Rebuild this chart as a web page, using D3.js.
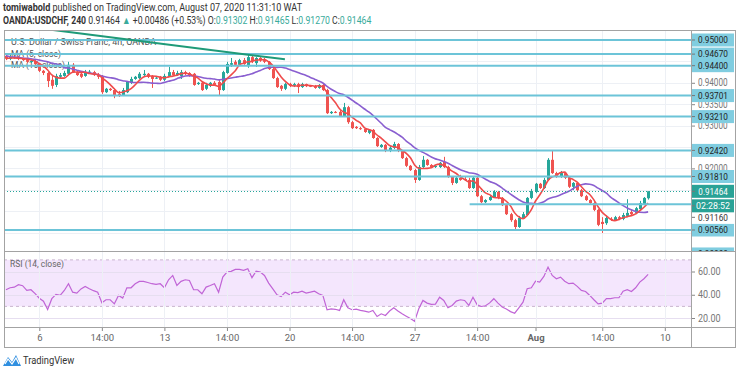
<!DOCTYPE html>
<html><head><meta charset="utf-8">
<script src="https://cdn.jsdelivr.net/npm/d3@7"></script>
<style>body{margin:0;background:#fff;}svg{display:block;font-family:Roboto,"Open Sans",sans-serif;}</style>
</head><body><svg id="c" width="740" height="373"></svg>
<script>
// ---------------- data ----------------
const open = [
.9463,.9456,.9460,.9458,.9456,.9453,.9449,.9451,.9444,.9428,
.9423,.9407,.9395,.9414,.9416,.9421,.9442,.9425,.9421,.9416,
.9425,.9425,.9418,.9416,.9378,.9386,.9383,.9374,.9371,.9378,
.9400,.9409,.9411,.9418,.9421,.9416,.9411,.9414,.9407,.9416,
.9425,.9418,.9416,.9425,.9423,.9421,.9397,.9400,.9386,.9393,
.9400,.9402,.9383,.9423,.9442,.9449,.9442,.9453,.9439,.9460,
.9446,.9458,.9453,.9449,.9432,.9411,.9393,.9386,.9397,.9393,
.9397,.9390,.9397,.9393,.9393,.9388,.9395,.9383,.9329,.9332,
.9332,.9322,.9343,.9308,.9297,.9294,.9292,.9283,.9290,.9271,
.9250,.9255,.9241,.9248,.9257,.9241,.9224,.9206,.9196,.9173,
.9203,.9220,.9208,.9203,.9203,.9215,.9203,.9180,.9166,.9178,
.9175,.9173,.9154,.9178,.9135,.9121,.9126,.9133,.9145,.9131,
.9114,.9093,.9079,.9063,.9084,.9091,.9131,.9145,.9164,.9154,
.9173,.9220,.9189,.9180,.9189,.9178,.9157,.9166,.9149,.9135,
.9126,.9119,.9103,.9075,.9072,.9082,.9079,.9086,.9082,.9089,
.9098,.9096,.9105,.9117,.91302];
const high = [
.9465,.9465,.9463,.9463,.9458,.9458,.9453,.9453,.9446,.9430,
.9425,.9416,.9421,.9423,.9428,.9449,.9446,.9428,.9423,.9430,
.9430,.9428,.9423,.9418,.9388,.9388,.9386,.9381,.9388,.9404,
.9414,.9416,.9425,.9430,.9423,.9418,.9416,.9416,.9421,.9437,
.9430,.9428,.9430,.9428,.9425,.9423,.9402,.9402,.9400,.9402,
.9404,.9407,.9428,.9449,.9458,.9453,.9456,.9458,.9467,.9463,
.9460,.9460,.9458,.9451,.9435,.9414,.9395,.9400,.9400,.9400,
.9400,.9400,.9398,.9395,.9395,.9397,.9397,.9386,.9334,.9334,
.9336,.9353,.9346,.9311,.9299,.9297,.9294,.9292,.9292,.9273,
.9257,.9257,.9252,.9262,.9259,.9243,.9227,.9208,.9199,.9208,
.9229,.9222,.9210,.9208,.9215,.9227,.9206,.9182,.9182,.9185,
.9180,.9178,.9180,.9180,.9138,.9128,.9138,.9149,.9147,.9133,
.9117,.9096,.9082,.9089,.9098,.9133,.9152,.9166,.9166,.9178,
.9224,.9241,.9192,.9194,.9192,.9180,.9168,.9168,.9152,.9138,
.9128,.9121,.9105,.9086,.9089,.9086,.9089,.9089,.9096,.9128,
.9103,.9110,.9124,.9133,.91465];
const low = [
.9453,.9453,.9456,.9453,.9451,.9446,.9446,.9439,.9425,.9418,
.9390,.9386,.9390,.9411,.9414,.9418,.9423,.9416,.9411,.9414,
.9421,.9416,.9409,.9374,.9376,.9381,.9364,.9367,.9369,.9376,
.9397,.9407,.9409,.9416,.9411,.9388,.9409,.9404,.9404,.9414,
.9416,.9416,.9409,.9418,.9414,.9393,.9395,.9381,.9383,.9390,
.9393,.9371,.9381,.9421,.9437,.9439,.9439,.9442,.9435,.9446,
.9437,.9449,.9446,.9430,.9409,.9388,.9381,.9383,.9390,.9390,
.9376,.9388,.9390,.9390,.9386,.9386,.9381,.9327,.9327,.9329,
.9320,.9320,.9304,.9292,.9292,.9290,.9283,.9280,.9269,.9250,
.9248,.9238,.9238,.9245,.9238,.9222,.9203,.9194,.9166,.9171,
.9201,.9206,.9201,.9201,.9201,.9201,.9178,.9161,.9164,.9171,
.9171,.9152,.9152,.9133,.9119,.9119,.9124,.9131,.9128,.9112,
.9091,.9075,.9054,.9061,.9082,.9089,.9128,.9142,.9152,.9152,
.9171,.9187,.9178,.9178,.9175,.9154,.9149,.9147,.9133,.9124,
.9117,.9100,.9065,.9049,.9068,.9077,.9077,.9079,.9079,.9086,
.9091,.9093,.9103,.9114,.91270];
const close = [
.9456,.9460,.9458,.9456,.9453,.9449,.9451,.9444,.9428,.9423,
.9404,.9393,.9416,.9418,.9423,.9442,.9425,.9418,.9414,.9425,
.9426,.9418,.9414,.9378,.9386,.9383,.9369,.9369,.9383,.9402,
.9409,.9414,.9421,.9421,.9414,.9409,.9412,.9407,.9416,.9425,
.9418,.9423,.9425,.9421,.9416,.9395,.9400,.9383,.9395,.9400,
.9395,.9383,.9425,.9444,.9446,.9442,.9453,.9444,.9460,.9451,
.9458,.9453,.9449,.9432,.9411,.9390,.9386,.9397,.9393,.9397,
.9390,.9397,.9393,.9392,.9388,.9395,.9383,.9329,.9332,.9331,
.9322,.9343,.9308,.9294,.9294,.9292,.9285,.9290,.9271,.9252,
.9255,.9241,.9248,.9257,.9241,.9224,.9206,.9196,.9173,.9203,
.9220,.9208,.9203,.9206,.9213,.9203,.9180,.9166,.9178,.9173,
.9173,.9154,.9178,.9135,.9121,.9126,.9133,.9145,.9131,.9114,
.9093,.9079,.9063,.9084,.9093,.9131,.9147,.9164,.9154,.9173,
.9220,.9189,.9180,.9189,.9178,.9157,.9166,.9149,.9135,.9126,
.9119,.9103,.9068,.9070,.9084,.9081,.9086,.9082,.9091,.9096,
.9093,.9107,.9119,.9131,.91464];
// MA(15) values visible at the left edge before a full 15-bar window exists
const ma15Head = [.9463,.9461,.9460,.9459,.9458,.9457,.9456,.9455,.9453,.9451,.9449,.9446,.9444,.9442];
const rsi = [
44.3,46,46.5,48.6,47.8,43.7,44.3,41,37,34.5,
27.3,36.6,40.3,39.4,43.7,49.5,42.2,41.4,45,47.2,
45.2,43.5,42.2,33.1,35.7,35.7,32.2,39.4,37.1,46,
46,49.5,51.5,51.5,50.5,49.5,48.9,49.5,46,52.9,
56.6,48,51.5,52.9,52.3,44.3,44.3,40.9,46.6,48,
49.5,42.2,55.2,59.5,60.1,61.8,61.8,61,62.4,54.7,
60.3,59.5,56.6,50,45,40,38.5,42.2,40,42.2,
41.9,43.1,41.4,42.2,43.1,40.9,39.4,27.1,27.9,27.5,
26.5,35.7,28.8,27.1,27.6,26.5,25.9,25,26.5,21.3,
23.6,22.2,26,28.8,26,23.6,21.5,19.5,17.2,27.9,
35.1,32.8,31.8,32,37.9,35.1,28.8,30.8,34.5,35.7,
35.1,30.8,37.9,31.4,29.9,30.5,33,36.6,32.8,29.5,
27.8,25.5,24.1,28.8,33.6,45.2,46,51.7,50.9,55.8,
63.8,56.6,53.8,55.2,51.7,49.5,50,47.2,43.7,42.8,
39.4,35.7,32.2,32.8,36.6,36.6,37.4,37.4,43.1,44.3,
42.8,46,50.9,53.8,57.5];
const levels = [0.95, 0.9467, 0.944, 0.93701, 0.9321, 0.9242, 0.9181, 0.9056, 0.9];
const partialLevel = 0.9116, partialLevelStart = 111.2;
const priceTicks = [0.94,0.935,0.93,0.92];   // plain scale labels left visible between the level boxes
const gridPrices = [0.95,0.945,0.94,0.935,0.93,0.925,0.92,0.915,0.91,0.905];
const rsiTicks = [60,40,20];
const rsiBand = [70,30];
const timeTickIdx = [8,23,38,53,68,83,98,113,127,143,158];
const timeTickLabels = ["6","14:00","13","14:00","20","14:00","27","14:00","Aug","14:00","10"];
const trendIdx = [11.3, 66.9];
const trendPrice = [0.95234, 0.94549];
const countdown = "02:28:52";

// ---------------- layout ----------------
const L = 4, R = 691, T = 30, MB = 251, RB = 327, AB = 347, RE = 736;
const svg = d3.select("#c");
const x = d3.scaleLinear().domain([0, 154]).range([5.94, 5.94 + 154 * 4.17]);
const y = d3.scaleLinear().domain([0.9056, 0.95]).range([230, 40]);
const ry = d3.scaleLinear().domain([20, 60]).range([318, 271.5]);
const UP = "#26a69a", DN = "#ef5350", LVL = "#6cc4d8", LBOX = "#80cde0";

// squeeze a text horizontally to a target width (anchored at its left edge or centre)
function fitX(sel, w, mid) {
  sel.each(function () {
    const b = this.getBBox(); if (!b.width) return;
    const s = w / b.width, ax = mid ? b.x + b.width / 2 : b.x;
    d3.select(this).attr("transform", `translate(${ax},0) scale(${s},1) translate(${-ax},0)`);
  });
}

const defs = svg.append("defs");
defs.append("clipPath").attr("id","cm").append("rect").attr("x",L).attr("y",T).attr("width",R-L).attr("height",MB-T);
defs.append("clipPath").attr("id","cr").append("rect").attr("x",L).attr("y",MB).attr("width",R-L).attr("height",RB-MB);
defs.append("clipPath").attr("id","ca").append("rect").attr("x",R).attr("y",T).attr("width",RE-R).attr("height",MB-T);

// header
const f5 = d3.format(".5f"), n = close.length - 1, TEAL = "#3aab9c";
const h1 = svg.append("text").attr("x",3).attr("y",11).attr("font-size",10.5).attr("fill","#333");
h1.append("tspan").attr("font-weight","bold").text("tomiwabold");
h1.append("tspan").text(" published on TradingView.com, August 07, 2020 11:31:10 WAT");
fitX(h1, 300);
const h2 = svg.append("text").attr("x",3).attr("y",24).attr("font-size",10.5).attr("fill","#333");
h2.append("tspan").attr("font-weight","bold").text("OANDA:USDCHF, 240");
h2.append("tspan").text(" " + f5(close[n]) + " ");
h2.append("tspan").attr("fill",TEAL).text("▲");
h2.append("tspan").text(" +0.00486 (+0.53%) O:");
h2.append("tspan").attr("fill",TEAL).text(f5(open[n]));
h2.append("tspan").text(" H:");
h2.append("tspan").attr("fill",TEAL).text(f5(high[n]));
h2.append("tspan").text(" L:");
h2.append("tspan").attr("fill",TEAL).text(f5(low[n]));
h2.append("tspan").text(" C:");
h2.append("tspan").attr("fill",TEAL).text(f5(close[n]));
fitX(h2, 369);

// RSI band
const rg = svg.append("g").attr("clip-path","url(#cr)");
rg.append("rect").attr("x",L).attr("width",R-L).attr("y",ry(rsiBand[0])).attr("height",ry(rsiBand[1])-ry(rsiBand[0])).attr("fill","#f4e6fd");

// grids
const grid = svg.append("g").attr("stroke","#edf0f5").attr("stroke-width",1);
gridPrices.forEach(p => grid.append("line").attr("x1",L).attr("x2",R).attr("y1",Math.round(y(p))+0.5).attr("y2",Math.round(y(p))+0.5));
rsiTicks.forEach(v => grid.append("line").attr("x1",L).attr("x2",R).attr("y1",Math.round(ry(v))+0.5).attr("y2",Math.round(ry(v))+0.5).attr("stroke","#e6def0"));
timeTickIdx.forEach(i => { const xx = Math.round(x(i))+0.5;
  grid.append("line").attr("x1",xx).attr("x2",xx).attr("y1",T).attr("y2",RB); });
rsiBand.forEach(v => rg.append("line").attr("x1",L).attr("x2",R).attr("y1",ry(v)).attr("y2",ry(v))
  .attr("stroke","#c9b6cf").attr("stroke-dasharray","3,3"));

// pane titles
const ttl = (t, yy, w) => fitX(svg.append("text").attr("x",11).attr("y",yy).attr("font-size",9.5).attr("fill","#555").text(t), w);
ttl("U.S. Dollar / Swiss Franc, 4h, OANDA", 45.5, 146);
ttl("MA (5, close)", 57, 50);
ttl("MA (15, close)", 68.5, 54);
fitX(svg.append("text").attr("x",10).attr("y",267).attr("font-size",9.5).attr("fill","#666").text("RSI (14, close)"), 54);

// candles
const mg = svg.append("g").attr("clip-path","url(#cm)");
const idx = d3.range(close.length);
const cg = mg.append("g");
cg.selectAll("line.w").data(idx).join("line").attr("class","w")
  .attr("x1",i=>Math.round(x(i))+0.5).attr("x2",i=>Math.round(x(i))+0.5)
  .attr("y1",i=>y(high[i])).attr("y2",i=>y(low[i]))
  .attr("stroke",i=>close[i]>=open[i]?UP:DN).attr("stroke-width",1);
cg.selectAll("rect").data(idx).join("rect")
  .attr("x",i=>Math.round(x(i))-1).attr("width",3)
  .attr("y",i=>y(Math.max(open[i],close[i])))
  .attr("height",i=>Math.max(1, Math.abs(y(open[i])-y(close[i]))))
  .attr("fill",i=>close[i]>=open[i]?UP:DN);

// moving averages
const ma5 = idx.map(i => d3.mean(close.slice(Math.max(0,i-4), i+1)));
const ma15 = idx.map(i => i < 14 ? ma15Head[i] : d3.mean(close.slice(i-14, i+1)));
const ln = d3.line().x(i=>x(i)).curve(d3.curveMonotoneX);
mg.append("path").attr("d", ln.y(i=>y(ma15[i]))(idx)).attr("fill","none").attr("stroke","#8a5fd0").attr("stroke-width",1.6);
mg.append("path").attr("d", ln.y(i=>y(ma5[i]))(idx)).attr("fill","none").attr("stroke","#ef4b4b").attr("stroke-width",1.6);

// level lines, trend line, current price
levels.forEach(p => mg.append("line").attr("x1",L).attr("x2",R).attr("y1",y(p)).attr("y2",y(p)).attr("stroke",LVL).attr("stroke-width",2));
mg.append("line").attr("x1",x(partialLevelStart)).attr("x2",R).attr("y1",y(partialLevel)).attr("y2",y(partialLevel)).attr("stroke",LVL).attr("stroke-width",2);
mg.append("line").attr("x1",x(trendIdx[0])).attr("x2",x(trendIdx[1])).attr("y1",y(trendPrice[0])).attr("y2",y(trendPrice[1]))
  .attr("stroke","#1f9a78").attr("stroke-width",2);
mg.append("line").attr("x1",L).attr("x2",R).attr("y1",Math.round(y(close[n]))+0.5).attr("y2",Math.round(y(close[n]))+0.5)
  .attr("stroke",UP).attr("stroke-dasharray","1,2");

// RSI line
rg.append("path").attr("d", d3.line().x(i=>x(i)).y(i=>ry(rsi[i]))(idx)).attr("fill","none").attr("stroke","#c064d6").attr("stroke-width",1.2);

// axes
const styleAxis = g => { g.select(".domain").remove(); g.selectAll("line").attr("stroke","#888");
  g.selectAll("text").attr("fill","#777").attr("font-size",10).attr("font-family","Roboto,sans-serif"); };
const pa = svg.append("g").attr("transform",`translate(${R},0)`)
  .call(d3.axisRight(y).tickValues(priceTicks).tickFormat(f5).tickSize(4).tickPadding(3)).call(styleAxis);
fitX(pa.selectAll("text"), 30);
const ra = svg.append("g").attr("transform",`translate(${R},0)`)
  .call(d3.axisRight(ry).tickValues(rsiTicks).tickFormat(d3.format(".2f")).tickSize(4).tickPadding(3)).call(styleAxis);
fitX(ra.selectAll("text"), 23);
const ta = svg.append("g").attr("transform",`translate(0,${RB})`)
  .call(d3.axisBottom(x).tickValues(timeTickIdx).tickFormat((d,i)=>timeTickLabels[i]).tickSize(4).tickPadding(3)).call(styleAxis);
ta.selectAll("text").attr("font-size",9.5).attr("fill","#666").attr("font-weight",(d,i)=>timeTickLabels[i]==="Aug"?"bold":"normal");

// level labels
const lab = svg.append("g").attr("clip-path","url(#ca)");
const box = (p, txt, fill, col, w, dyy) => {
  const yy = y(p) + (dyy || 0);
  lab.append("rect").attr("x",R+1).attr("y",yy-6.5).attr("width",42).attr("height",13).attr("fill",fill);
  lab.append("line").attr("x1",R).attr("x2",R+4).attr("y1",yy).attr("y2",yy).attr("stroke","#777");
  fitX(lab.append("text").attr("x",R+22).attr("y",yy).attr("dy","0.35em").attr("text-anchor","middle")
    .attr("font-size",9.5).attr("fill",col).text(txt), w || 30, true);
};
levels.forEach(p => box(p, f5(p), LBOX, "#222"));
box(partialLevel, f5(partialLevel), "#fff", "#333", 30, 13);
box(close[n], f5(close[n]), "#2aa296", "#fff");
box(close[n], countdown, "#2aa296", "#fff", 34, 14.5);

// frame
const fr = svg.append("g").attr("stroke","#a3a3a3").attr("fill","none");
fr.append("rect").attr("x",L+0.5).attr("y",T+0.5).attr("width",RE-L-1).attr("height",AB-T);
fr.append("line").attr("x1",L).attr("x2",RE).attr("y1",MB+0.5).attr("y2",MB+0.5);
fr.append("line").attr("x1",L).attr("x2",RE).attr("y1",RB+0.5).attr("y2",RB+0.5);
fr.append("line").attr("x1",R+0.5).attr("x2",R+0.5).attr("y1",T).attr("y2",AB);

// TradingView logo
const lg = svg.append("g").attr("transform","translate(3,352)");
lg.append("path").attr("d","M0,14 L5,5 L9,10 L13,3 L18,14 Z").attr("fill","#2f8fe0");
lg.append("path").attr("d","M2,12 L5,7 L9,12 L13,6 L16,12").attr("fill","none").attr("stroke","#fff").attr("stroke-width",1.2);
fitX(svg.append("text").attr("x",23).attr("y",364).attr("font-size",11).attr("fill","#333").text("TradingView"), 52);
</script></body></html>
